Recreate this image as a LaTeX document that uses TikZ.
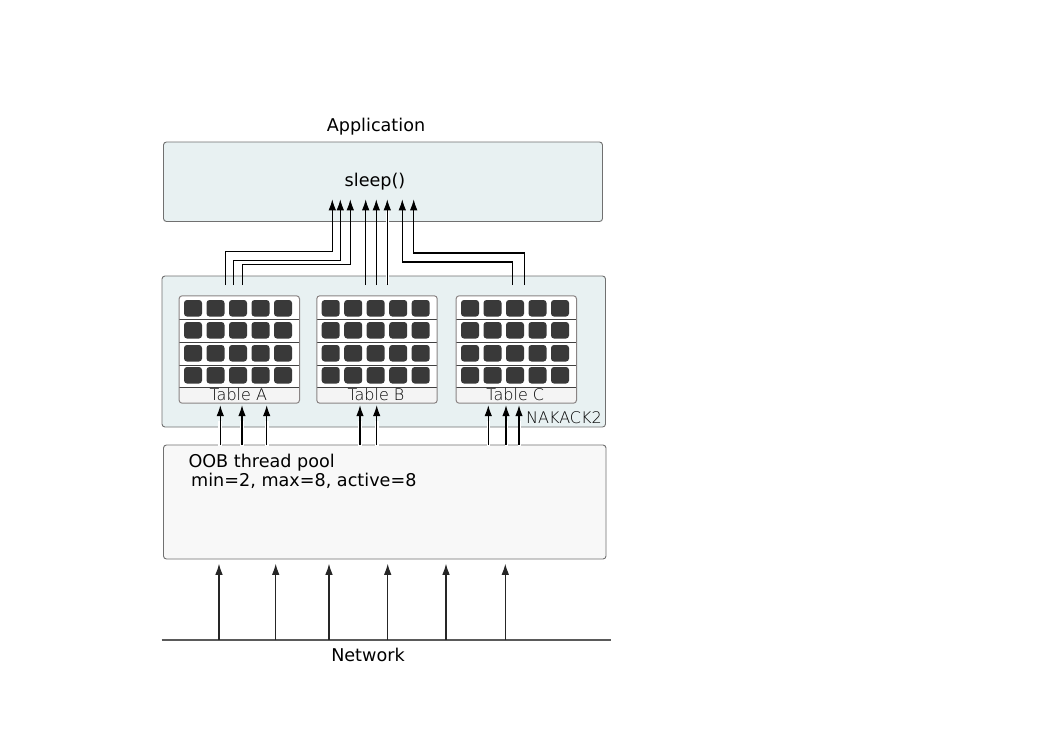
\documentclass[tikz,border=0pt]{standalone}
\usepackage{fontspec}
\setmainfont{DejaVu Sans}
\newfontfamily\lightfont{DejaVuSans-ExtraLight.ttf}
\usetikzlibrary{arrows.meta}
\definecolor{boxfill}{HTML}{E8F1F2}
\definecolor{oobfill}{HTML}{F8F8F8}
\definecolor{bordercol}{HTML}{707070}
\definecolor{tblborder}{HTML}{8A8484}
\definecolor{sqcol}{HTML}{393939}
\definecolor{lblfill}{HTML}{F4F4F4}
\definecolor{sepcol}{HTML}{404040}
\definecolor{netcol}{HTML}{5A5A5A}
\newcommand\mytable[3]{%
  \node[tbl] (#1) at (#2,349.5) {};
  \begin{scope}
    \clip[rounded corners=3pt] (#1.north west) rectangle (#1.south east);
    \fill[lblfill] (#2-60,387) rectangle (#2+60,403);
  \end{scope}
  \foreach \yy in {319,342.5,365,387} \draw[sepline] (#2-60,\yy) -- (#2+60,\yy);
  \foreach \yy in {300,322,345,367} {
    \foreach \i in {0,...,4} {
      \fill[sqcol, rounded corners=3pt] (#2-55.3+22.5*\i,\yy) rectangle ++(18,16.5);
    }
  }
  \draw[tblframe] (#1.north west) rectangle (#1.south east);
  \node[lbl, anchor=base] (#1lbl) at (#2-1,400) {#3};
}
\begin{document}
\begin{tikzpicture}[x=1pt,y=-1pt,
  txt/.style={font=\fontsize{17.6}{21}\selectfont, inner sep=0pt, text=black},
  lbl/.style={font=\lightfont\fontsize{16}{19}\selectfont, inner sep=0pt, text=black},
  bigbox/.style={draw=bordercol, line width=0.9pt, rounded corners=3pt, inner sep=0pt},
  tbl/.style={fill=white, minimum width=120pt, minimum height=107pt, inner sep=0pt},
  tblframe/.style={draw=tblborder, line width=1pt, rounded corners=3pt},
  sepline/.style={draw=sepcol, line width=0.9pt},
  conn/.style={draw=black, line width=1.1pt, -{Latex[length=11pt,width=7.5pt]}},
  halo/.style={draw=white, line width=4pt},
  netline/.style={draw=netcol, line width=1.3pt}
]
\useasboundingbox (0,0) rectangle (1053,745);
\fill[white] (0,0) rectangle (1053,745);

% boxes
\node[bigbox, fill=boxfill, minimum width=439pt, minimum height=79.5pt] (app) at (383,181.75) {};
\node[bigbox, fill=boxfill, minimum width=443.5pt, minimum height=151pt] (nak) at (383.75,351.5) {};
\node[bigbox, fill=oobfill, minimum width=442.5pt, minimum height=114pt] (oob) at (384.75,502) {};

% labels
\node[txt, anchor=base] (applbl) at (376,131) {Application};
\node[txt, anchor=base] (sleep) at (375,186.5) {sleep()};
\node[txt, anchor=base west] (oob1) at (188.3,467.3) {OOB thread pool};
\node[txt, anchor=base west] (oob2) at (191,486.7) {min=2, max=8, active=8};
\node[txt, anchor=base] (netlbl) at (368,661) {Network};
\node[lbl, anchor=base east] (naklbl) at (602,423.3) {NAKACK2};

% tables
\mytable{tA}{239.3}{Table A}
\mytable{tB}{377}{Table B}
\mytable{tC}{516.3}{Table C}

% arrows from tables to application
\coordinate (s1) at (225.7,285); \coordinate (e1) at (332.3,199.3);
\coordinate (s2) at (233.7,285); \coordinate (e2) at (340.3,199.3);
\coordinate (s3) at (242.3,285); \coordinate (e3) at (350.3,199.3);
\coordinate (s4) at (365.7,285); \coordinate (e4) at (365.7,199.3);
\coordinate (s5) at (376.3,285); \coordinate (e5) at (376.3,199.3);
\coordinate (s6) at (387.3,285); \coordinate (e6) at (387.3,199.3);
\coordinate (s7) at (512.3,285); \coordinate (e7) at (402.3,199.3);
\coordinate (s8) at (524.7,285); \coordinate (e8) at (413.7,199.3);
\draw[conn] (s1) -- ++(0,-33.3) -| (e1);
\draw[conn] (s2) -- ++(0,-24.7) -| (e2);
\draw[conn] (s3) -- ++(0,-20.7) -| (e3);
\draw[conn] (s4) -- (e4);
\draw[conn] (s5) -- (e5);
\draw[halo, line width=3.5pt] (387.3,284) -- (387.3,209);
\draw[conn] (s6) -- (e6);
\draw[conn] (s7) -- ++(0,-23) -| (e7);
\draw[conn] (s8) -- ++(0,-32) -| (e8);

% arrows from OOB pool to tables
\foreach \x [count=\i] in {220.3,242,266.7} {
  \coordinate (pa\i) at (\x,445);
  \draw[halo] (\x,446) -- (\x,421);
  \draw[conn] (pa\i) -- (pa\i |- tA.south) [shorten >=2pt];
}
\foreach \x [count=\i] in {360,376.7} {
  \coordinate (pb\i) at (\x,445);
  \draw[halo] (\x,446) -- (\x,421);
  \draw[conn] (pb\i) -- (pb\i |- tB.south) [shorten >=2pt];
}
\foreach \x [count=\i] in {488.3,506,519} {
  \coordinate (pc\i) at (\x,445);
  \draw[halo, line width=3pt] (\x,446) -- (\x,421);
  \draw[conn] (pc\i) -- (pc\i |- tC.south) [shorten >=2pt];
}

% network
\coordinate (nl) at (161.7,640);
\coordinate (nr) at (611,640);
\draw[netline] (nl) -- (nr);
\foreach \x [count=\i] in {219,275.7,329,387.7,446,505.3} {
  \coordinate (n\i) at (\x,640);
  \draw[conn, draw=black!85] (n\i) -- (n\i |- oob.south) [shorten >=4.3pt];
}
\end{tikzpicture}
\end{document}
